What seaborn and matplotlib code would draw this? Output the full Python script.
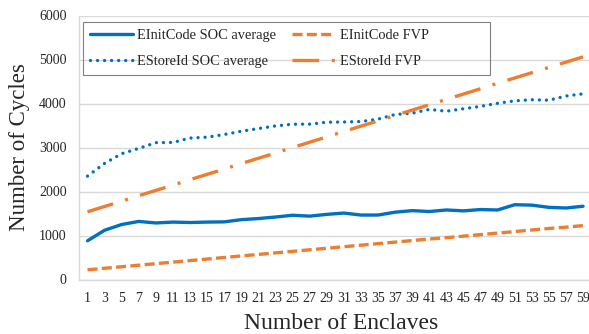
import numpy as np
import pandas as pd
import seaborn as sns
import matplotlib.pyplot as plt
from matplotlib.patches import Rectangle

# enclave counts (odd only, one point per category)
enclaves = list(range(1, 60, 2))

einit_soc = [880, 1120, 1250, 1320, 1285, 1305, 1295, 1305, 1310, 1360,
             1385, 1420, 1460, 1440, 1480, 1510, 1465, 1465, 1530, 1565,
             1545, 1580, 1560, 1590, 1580, 1700, 1690, 1640, 1625, 1665]
estore_soc = [2350, 2640, 2860, 2980, 3110, 3115, 3215, 3235, 3295, 3370,
              3430, 3490, 3530, 3530, 3575, 3580, 3590, 3645, 3750, 3780,
              3865, 3825, 3880, 3935, 4005, 4060, 4085, 4075, 4170, 4220]
einit_fvp = [220, 255, 290, 325, 360, 395, 430, 465, 500, 535,
             570, 605, 640, 675, 710, 745, 780, 815, 850, 885,
             920, 950, 985, 1020, 1055, 1090, 1125, 1160, 1190, 1225]
estore_fvp = [1540, 1660, 1780, 1905, 2025, 2145, 2270, 2390, 2510, 2635,
              2755, 2875, 3000, 3120, 3240, 3365, 3485, 3605, 3730, 3850,
              3970, 4095, 4215, 4335, 4460, 4580, 4700, 4820, 4940, 5060]

blue = "#0070C0"
orange = "#ED7D31"

sns.set_style("white")
plt.rcParams['font.family'] = ['Liberation Serif', 'DejaVu Serif']

W, H = 589, 334
fig = plt.figure(figsize=(W / 100, H / 100), dpi=100)
ax = fig.add_axes([79 / W, (H - 279.5) / H, 512.6 / W, 264 / H])

lw = 2.4
sns.lineplot(x=enclaves, y=einit_soc, ax=ax, color=blue, linewidth=lw,
             label="EInitCode SOC average")
sns.lineplot(x=enclaves, y=estore_soc, ax=ax, color=blue, linewidth=lw,
             linestyle=(0, (0.01, 2.1)), dash_capstyle="round",
             label="EStoreId SOC average")
sns.lineplot(x=enclaves, y=einit_fvp, ax=ax, color=orange, linewidth=lw,
             linestyle=(0, (3, 1.3)), label="EInitCode FVP")
sns.lineplot(x=enclaves, y=estore_fvp, ax=ax, color=orange, linewidth=lw,
             linestyle=(0, (8, 3.8, 0.9, 3.8)), label="EStoreId FVP")

ax.set_xlim(0, 60)
ax.set_ylim(0, 6000)
ax.set_xticks(enclaves)
ax.set_yticks(range(0, 6001, 1000))
ax.tick_params(axis="both", length=0, labelsize=10, colors="#262626")
ax.tick_params(axis="x", pad=9)
ax.tick_params(axis="y", pad=9)

ax.grid(axis="y", color="#D9D9D9", linewidth=1)
for s in ["top", "right"]:
    ax.spines[s].set_visible(False)
for s in ["left", "bottom"]:
    ax.spines[s].set_color("#D9D9D9")
    ax.spines[s].set_linewidth(1)

ax.set_xlabel("Number of Enclaves", fontsize=17)
ax.set_ylabel("Number of Cycles", fontsize=16.5)
ax.xaxis.set_label_coords(0.512, -0.128)
ax.yaxis.set_label_coords(-0.096, 0.5)

handles, labels = ax.get_legend_handles_labels()
order = [0, 1, 2, 3]
leg = ax.legend([handles[i] for i in order], [labels[i] for i in order],
                ncol=2, loc="upper left",
                bbox_to_anchor=(83 / W, 1 - 22 / H),
                bbox_transform=fig.transFigure,
                borderaxespad=0, fontsize=10.4, handlelength=3.0,
                handletextpad=0.3, frameon=False,
                columnspacing=1.1, labelspacing=0.92, borderpad=0.45)

# legend box (wider than its entries, as in the original)
fig.add_artist(Rectangle((83 / W, 1 - 75 / H), (490 - 83) / W, 53 / H,
                         transform=fig.transFigure, fill=False,
                         edgecolor="#808080", linewidth=0.8))

fig.savefig("out.png", dpi=100)
